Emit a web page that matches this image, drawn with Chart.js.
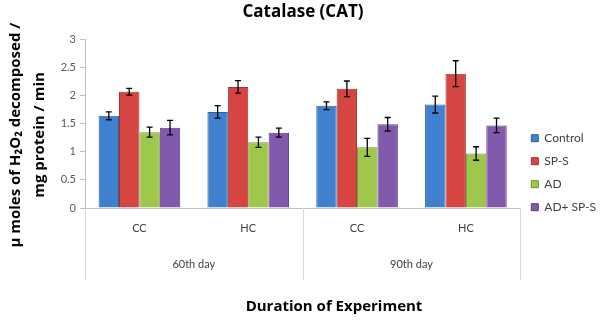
<!DOCTYPE html>
<html>
<head>
<meta charset="utf-8">
<script src="https://cdn.jsdelivr.net/npm/chart.js@4.4.0/dist/chart.umd.min.js"></script>
<style>
  html, body { margin: 0; padding: 0; background: #ffffff; }
  #wrap { width: 600px; height: 321px; }
</style>
</head>
<body>
<div id="wrap"><canvas id="myChartCatalase"></canvas></div>
<script>
// categorias y grupos del eje x
var categorias = ['CC', 'HC', 'CC', 'HC'];
var grupos = ['60th day', '90th day'];
var yTicks = [0, 0.5, 1, 1.5, 2, 2.5, 3];

// valores
var control = [1.64, 1.71, 1.82, 1.84];
var sps = [2.07, 2.155, 2.12, 2.39];
var ad = [1.35, 1.17, 1.08, 0.97];
var adSps = [1.43, 1.34, 1.49, 1.47];

// barras de error (±)
var errControl = [0.07, 0.11, 0.07, 0.15];
var errSps = [0.06, 0.11, 0.14, 0.23];
var errAd = [0.09, 0.09, 0.16, 0.12];
var errAdSps = [0.13, 0.08, 0.12, 0.13];

var fuente = 'Lato, "Open Sans", sans-serif';
var fuenteTitulo = '"Open Sans", Lato, sans-serif';

// dibuja las barras de error con las escalas del gráfico
var errorBarsPlugin = {
    id: 'errorBars',
    afterDatasetsDraw: function (chart) {
        var ctx = chart.ctx;
        var y = chart.scales.y;
        ctx.save();
        ctx.strokeStyle = '#000000';
        ctx.lineWidth = 1.3;
        chart.data.datasets.forEach(function (ds, i) {
            var meta = chart.getDatasetMeta(i);
            meta.data.forEach(function (bar, j) {
                var v = ds.data[j], e = ds.errores[j];
                var top = y.getPixelForValue(v + e);
                var bot = y.getPixelForValue(v - e);
                ctx.beginPath();
                ctx.moveTo(bar.x, top); ctx.lineTo(bar.x, bot);
                ctx.moveTo(bar.x - 3, top); ctx.lineTo(bar.x + 3, top);
                ctx.moveTo(bar.x - 3, bot); ctx.lineTo(bar.x + 3, bot);
                ctx.stroke();
            });
        });
        ctx.restore();
    }
};

// lineas separadoras de grupos y titulos de los ejes
var gruposPlugin = {
    id: 'grupos',
    afterDraw: function (chart) {
        var ctx = chart.ctx;
        var x = chart.scales.x;
        var area = chart.chartArea;
        var paso = x.getPixelForValue(1) - x.getPixelForValue(0);
        ctx.save();
        ctx.strokeStyle = '#d9d9d9';
        ctx.lineWidth = 1;
        [0, 2, 4].forEach(function (k) {
            var px = Math.round(x.getPixelForValue(0) - paso / 2 + k * paso) + 0.5;
            ctx.beginPath();
            ctx.moveTo(px, area.bottom);
            ctx.lineTo(px, area.bottom + 72);
            ctx.stroke();
        });
        ctx.fillStyle = '#000000';
        ctx.font = 'bold 15px ' + fuenteTitulo;
        ctx.textAlign = 'center';
        ctx.textBaseline = 'middle';
        ctx.fillText('Duration of Experiment', 334, chart.height - 14);

        // titulo del eje y (dos lineas, girado)
        ctx.translate(28, 135);
        ctx.rotate(-Math.PI / 2);
        ctx.fillText('\u00b5 moles of H\u2082O\u2082 decomposed /', 0, -12);
        ctx.fillText('mg protein / min', 0, 12);
        ctx.restore();
    }
};

var ctx = document.getElementById('myChartCatalase').getContext('2d');

window.myChart = new Chart(ctx, {
    type: 'bar',
    data: {
        labels: categorias,
        datasets: [{
            label: 'Control',
            data: control,
            errores: errControl,
            backgroundColor: '#3f80cf',
            borderColor: '#2f5f9e',
            borderWidth: 1
        },
        {
            label: 'SP-S',
            data: sps,
            errores: errSps,
            backgroundColor: '#d64541',
            borderColor: '#9e3330',
            borderWidth: 1
        },
        {
            label: 'AD',
            data: ad,
            errores: errAd,
            backgroundColor: '#9fc74c',
            borderColor: '#6f8f33',
            borderWidth: 1
        },
        {
            label: 'AD+ SP-S',
            data: adSps,
            errores: errAdSps,
            backgroundColor: '#8159ad',
            borderColor: '#5b3f7e',
            borderWidth: 1
        }]
    },
    options: {
        responsive: true,
        maintainAspectRatio: false,
        animation: false,
        layout: { padding: { left: 0, right: -6, top: 0, bottom: 0 } },
        datasets: {
            bar: { categoryPercentage: 0.75, barPercentage: 1 }
        },
        plugins: {
            title: {
                display: true,
                text: 'Catalase (CAT)',
                color: '#000000',
                font: { family: fuenteTitulo, size: 17, weight: 'bold' },
                padding: { top: 2, bottom: 17 }
            },
            legend: {
                position: 'right',
                title: {
                    display: true,
                    text: ' ',
                    font: { size: 12 },
                    padding: { top: 0, bottom: 10 }
                },
                labels: {
                    boxWidth: 7,
                    boxHeight: 7,
                    padding: 11,
                    color: '#404040',
                    font: { family: fuente, size: 12 }
                }
            },
            tooltip: { enabled: false }
        },
        scales: {
            y: {
                min: 0,
                max: 3,
                afterBuildTicks: function (axis) {
                    axis.ticks = yTicks.map(function (v) { return { value: v }; });
                },
                afterFit: function (axis) { axis.width = 85; },
                grid: { drawOnChartArea: false, tickLength: 5, color: '#bfbfbf' },
                border: { color: '#bfbfbf' },
                ticks: {
                    padding: 4,
                    color: '#595959',
                    font: { family: fuente, size: 11 },
                    callback: function (v) { return String(v); }
                }
            },
            x: {
                afterFit: function (axis) { axis.height = 28; },
                grid: { display: false },
                border: { color: '#bfbfbf' },
                ticks: {
                    padding: 6,
                    color: '#404040',
                    font: { family: fuente, size: 11 }
                }
            },
            x2: {
                type: 'category',
                position: 'bottom',
                labels: grupos,
                offset: true,
                afterFit: function (axis) { axis.height = 85; },
                grid: { display: false },
                border: { display: false },
                ticks: {
                    padding: 14,
                    color: '#404040',
                    font: { family: fuente, size: 11 }
                }
            }
        }
    },
    plugins: [errorBarsPlugin, gruposPlugin]
});
</script>
</body>
</html>
